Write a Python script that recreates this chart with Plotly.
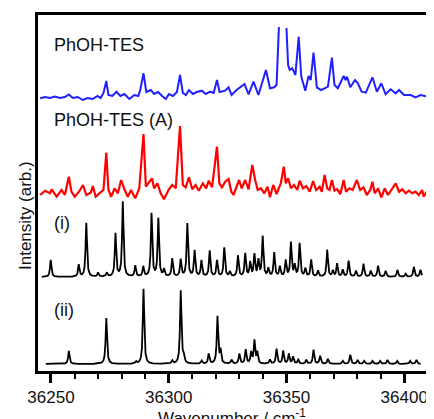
import numpy as np
import plotly.graph_objects as go

# ---------------- data ----------------
# Experimental spectrum PhOH-TES (blue), wavenumber / intensity (arb.)
blue_wn = [36245.4, 36247.5, 36249.6, 36251.7, 36253.8, 36255.9, 36257.6, 36259.3, 36261.4, 36263.5,
           36265.6, 36267.7, 36269.8, 36271.1, 36272.3, 36273.5, 36274.4, 36276.1, 36277.8, 36279.5,
           36281.2, 36283.3, 36285.4, 36287.1, 36287.9, 36289.3, 36290.5, 36292.4, 36293.8, 36295.5,
           36297.2, 36298.8, 36300.1, 36301.8, 36303.5, 36304.8, 36306.0, 36307.3, 36308.6, 36310.3,
           36311.9, 36314.1, 36315.7, 36317.7, 36319.1, 36320.5, 36321.6, 36324.0, 36325.4, 36326.7,
           36328.8, 36332.2, 36333.9, 36336.0, 36338.1, 36341.3, 36343.0, 36344.8, 36345.8, 36346.8,
           36348.4,
           36350.0, 36350.7, 36351.4, 36352.4, 36353.2, 36353.8, 36355.2, 36356.3, 36358.0, 36359.4,
           36360.3, 36361.5, 36362.9, 36364.7, 36366.2, 36367.6, 36369.3, 36370.4, 36371.8, 36374.3,
           36375.1, 36375.7, 36377.1, 36379.1, 36380.2, 36381.9, 36383.7, 36386.5, 36388.4, 36390.3,
           36392.1, 36394.2, 36396.4, 36397.8, 36399.9, 36402.7, 36404.8, 36406.9, 36410.0]
blue_int = [-0.3, 1, 0, 1.5, 0, 1, 3.5, 0, 1, -2,
            0, -1, 2, 0, 5, 17, 3, 2, 6.3, 2,
            4, -1, 3, 2, 8, 24.7, 6, 8, 4, 6,
            2, -1, 4, 2, 6, 23, 5, 3, 8, 4,
            6, 7.3, 4, 6.3, 5, 18, 6, 7.3, 10.7, 3,
            8, 14, 3.7, 16.3, 3, 28, 9.7, 10.7, 13, 71,
            None,
            70, 33, 28, 29.7, 26.3, 23, 61.3, 21.3, 7.3, 22,
            18, 45.3, 10.7, 8, 9.7, 11.3, 40.3, 13, 9.7, 22,
            18, 21.3, 10.7, 18, 15.3, 6.3, 5.3, 20.7, 6.3, 14.7,
            3.7, 8.7, 4.7, 8, 3, 3, 0.7, 3, 1.3]

# Experimental spectrum PhOH-TES (A) (red)
red_wn = [36245.4, 36247.5, 36249.6, 36250.3, 36252.4, 36254.5, 36255.9, 36257.6, 36258.7, 36260.1,
          36261.9, 36263.6, 36265.0, 36266.9, 36267.8, 36269.0, 36270.9, 36272.3, 36273.5, 36274.4,
          36275.6, 36277.0, 36278.4, 36279.8, 36281.2, 36282.6, 36284.0, 36285.8, 36287.5, 36289.3,
          36290.3, 36291.7, 36292.9, 36293.8, 36295.2, 36296.6, 36298.0, 36299.9, 36301.5, 36303.0,
          36304.8, 36306.0, 36307.2, 36308.6, 36310.0, 36311.4, 36312.8, 36314.5, 36315.9, 36317.0,
          36318.4, 36320.5, 36321.5, 36322.6, 36324.0, 36325.4, 36326.6, 36327.5, 36328.9, 36329.9,
          36331.0, 36332.5, 36333.9, 36335.5, 36336.7, 36337.8, 36339.2, 36340.6, 36342.0, 36343.0,
          36344.4, 36345.8, 36347.6, 36348.9, 36349.7, 36350.7, 36351.9, 36353.2, 36354.6, 36355.6,
          36357.0, 36358.4, 36359.9, 36361.3, 36362.6, 36364.1, 36365.0, 36366.2, 36367.3, 36368.3,
          36369.3, 36370.4, 36371.5, 36372.9, 36374.3, 36375.3, 36376.7, 36378.1, 36379.9, 36381.3,
          36382.7, 36384.1, 36385.6, 36386.5, 36387.5, 36388.9, 36390.3, 36391.7, 36393.1, 36394.5,
          36396.4, 36397.8, 36399.2, 36400.6, 36402.0, 36403.4, 36404.8, 36406.2, 36407.6, 36408.3,
          36409.4]
red_int = [1, 5.3, 2.7, 6.7, -0.7, 6, 1, 19.3, 4.3, -0.7,
           4.3, 11, 1, 3.3, 10, -0.7, 3.3, 6, 43.3, 6,
           -0.7, 7.7, 2.7, 16, 6.7, -0.7, 6, -2.3, 7.7, 62,
           9.3, 14.3, 17.7, 7.7, 12.7, 2.7, -3.3, 6, 11, 7.7,
           70, 11, 8.7, 18.7, 6.7, 11, 5.3, 12.7, 7.7, 15.3,
           8.7, 49.3, 12.7, 8.7, 14.3, 17, 4.3, 1, 11, 16,
           7.7, 16, 6.7, 31, 16, 6, 7.7, 2.7, 9.3, -1.3,
           11, 2, 12.7, 29.3, 12.7, 17.7, 7.7, 11, 6, 15.3,
           7.7, 10, 4.3, 15, 6, 9.3, 4.3, 21, 7.7, 6,
           16, 5.3, 6.7, 2, 16, 4.3, 7.7, 6, 16, 6,
           8.7, 1, 6, 14.3, 2.7, 7.7, -1.3, 7.7, 1, 6,
           12.7, 4.3, 6.7, 2.7, 5.3, 2.7, 4.3, 1, 6, -0.7,
           4.3]

# Calculated spectrum (i): line positions and intensities
calc_i_pos = [36249.9, 36261.8, 36265.0, 36270.0, 36273.7, 36277.4, 36280.5, 36285.8, 36289.2, 36292.7,
              36295.6, 36298.0, 36301.5, 36305.1, 36307.9, 36311.0, 36313.9, 36317.4, 36320.5, 36323.6,
              36326.0, 36329.4, 36332.5, 36334.6, 36336.4, 36338.1, 36339.9, 36342.3, 36344.8, 36347.2,
              36349.7, 36351.9, 36353.5, 36355.6, 36358.0, 36360.5, 36363.4, 36367.3, 36369.7, 36371.5,
              36373.9, 36376.4, 36379.5, 36382.7, 36385.8, 36388.9, 36392.1, 36397.1, 36400.6, 36404.1,
              36406.9]
calc_i_int = [17, 12, 54, 4, 4, 43, 75, 11, 10, 63,
              58, 7, 18, 17, 53, 26, 16, 26, 16, 29,
              5, 21, 23, 14, 22, 16, 40, 8, 24, 10,
              16, 34, 11, 33, 8, 17, 6, 27, 6, 13,
              7, 16, 6, 13, 6, 11, 6, 7, 3, 10,
              7]

# Calculated spectrum (ii)
calc_ii_pos = [36257.6, 36273.5, 36286.1, 36289.3, 36301.5, 36305.1, 36306.3, 36314.0, 36317.0, 36320.7,
               36322.0, 36326.7, 36330.0, 36332.7, 36335.0, 36336.4, 36337.6, 36343.0, 36345.8, 36348.6,
               36351.0, 36352.8, 36355.0, 36358.4, 36361.5, 36364.3, 36367.6, 36373.9, 36377.1, 36380.2,
               36383.0, 36386.5, 36389.8, 36392.9, 36397.0, 36402.5, 36405.2]
calc_ii_int = [13, 46, 2, 75, 3, 73, 8, 3, 10, 47,
               13, 4, 10, 14, 11, 23, 11, 4, 15, 13,
               10, 7, 4, 4, 14, 8, 5, 3, 9, 4,
               3, 3, 3, 4, 3, 3, 4]

x_ticks = [36250, 36300, 36350, 36400]
labels = ["PhOH-TES", "PhOH-TES (A)", "(i)", "(ii)"]
x_title = "Wavenumber / cm<sup>-1</sup>"
y_title = "Intensity (arb.)"

# ---------------- layout helpers ----------------
offsets = {"blue": 273, "red": 175, "i": 94, "ii": 7}
LW = 0.7  # line width (FWHM) used to broaden the calculated lines


def broaden(pos, inten, start, stop):
    grid = np.arange(start, stop, 0.05)
    g = LW / 2
    y = np.zeros_like(grid)
    for p, h in zip(pos, inten):
        y += h * g * g / ((grid - p) ** 2 + g * g)
    return grid, y


def shift(vals, off):
    return [None if v is None else v + off for v in vals]


fig = go.Figure()
fig.add_trace(go.Scatter(x=blue_wn, y=shift(blue_int, offsets["blue"]), mode="lines",
                         line=dict(color="#1f1fff", width=2), connectgaps=False))
fig.add_trace(go.Scatter(x=red_wn, y=shift(red_int, offsets["red"]), mode="lines",
                         line=dict(color="#ff0000", width=2.2)))
gx, gy = broaden(calc_i_pos, calc_i_int, 36246.1, 36407.6)
fig.add_trace(go.Scatter(x=gx, y=gy + offsets["i"], mode="lines",
                         line=dict(color="black", width=1.8)))
gx, gy = broaden(calc_ii_pos, calc_ii_int, 36247.8, 36407.0)
fig.add_trace(go.Scatter(x=gx, y=gy + offsets["ii"], mode="lines",
                         line=dict(color="black", width=1.8)))

label_y = [326, 251, 148, 61]
for txt, yy in zip(labels, label_y):
    fig.add_annotation(x=36250.4, y=yy, xref="x", yref="y", text=txt, showarrow=False,
                       xanchor="left", yanchor="middle",
                       font=dict(size=18, color="#111111"))

fig.add_annotation(x=-0.063, y=0.438, xref="paper", yref="paper", text=y_title,
                   textangle=-90, showarrow=False, font=dict(size=17, color="#111111"))
fig.add_annotation(x=0.4975, y=-0.129, xref="paper", yref="paper", text=x_title,
                   showarrow=False, xanchor="center", yanchor="middle",
                   font=dict(size=17, color="#111111"))

# page body has an 8px margin: the figure is sized/offset to compensate
fig.update_layout(
    width=426, height=411,
    margin=dict(l=30, r=3, t=7, b=48),
    paper_bgcolor="white", plot_bgcolor="white",
    showlegend=False,
    font=dict(family="Liberation Sans, Arial, sans-serif", color="#111111"),
)
fig.update_xaxes(range=[36244.5, 36410.1], tickvals=x_ticks, ticktext=[str(t) for t in x_ticks],
                 ticks="outside", ticklen=9, tickwidth=2.5, tickcolor="black",
                 minor=dict(dtick=10, tick0=36250, ticks="outside", ticklen=5, tickwidth=2.2, tickcolor="black"),
                 showline=True, linewidth=3, linecolor="black", mirror=True,
                 showgrid=False, zeroline=False,
                 tickfont=dict(size=17, color="#111111"))
fig.update_yaxes(range=[0, 356], showticklabels=False, ticks="",
                 showline=True, linewidth=3, linecolor="black", mirror=True,
                 showgrid=False, zeroline=False)

fig.write_html("out.html")
